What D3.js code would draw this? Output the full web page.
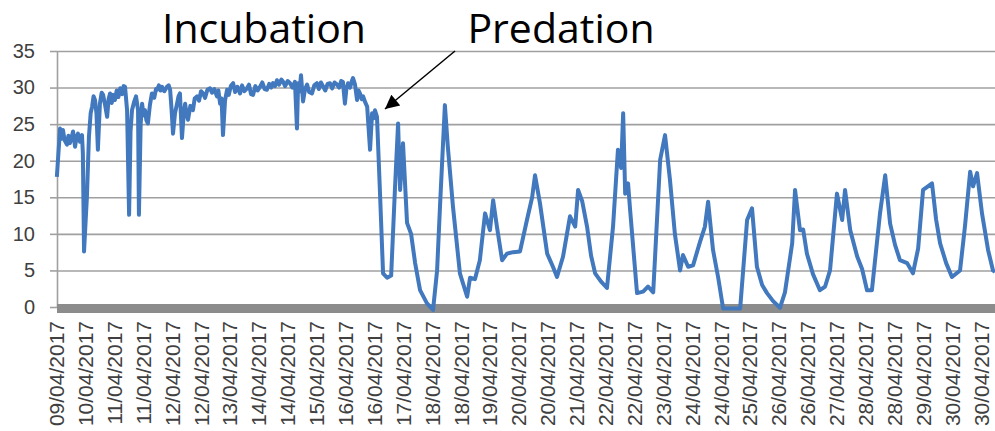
<!DOCTYPE html>
<html>
<head>
<meta charset="utf-8">
<script src="https://cdn.jsdelivr.net/npm/d3@7"></script>
<style>
  body { margin: 0; background: #fff; }
  .tick text { font-family: "Liberation Sans", Arial, sans-serif; fill: #404040; }
  .note { font-family: "Open Sans", sans-serif; font-size: 41px; fill: #000; }
</style>
</head>
<body>
<script>
// x axis category labels (one every ~16 h of readings)
var dateLabels = ["09/04/2017","10/04/2017","11/04/2017","11/04/2017","12/04/2017","12/04/2017",
  "13/04/2017","14/04/2017","14/04/2017","15/04/2017","16/04/2017","16/04/2017","17/04/2017",
  "18/04/2017","18/04/2017","19/04/2017","20/04/2017","20/04/2017","21/04/2017","22/04/2017",
  "22/04/2017","23/04/2017","24/04/2017","24/04/2017","25/04/2017","26/04/2017","26/04/2017",
  "27/04/2017","28/04/2017","28/04/2017","29/04/2017","30/04/2017","30/04/2017"];

var yTicks = [0, 5, 10, 15, 20, 25, 30, 35];

// position along the category axis (in label steps)
var tPos = [0.03,0.14,0.20,0.24,0.30,0.38,0.43,0.48,0.53,0.59,
  0.66,0.71,0.76,0.83,0.90,0.93,0.97,1.07,1.14,1.20,
  1.25,1.30,1.35,1.40,1.45,1.52,1.58,1.63,1.70,1.77,
  1.82,1.87,1.93,1.98,2.04,2.10,2.16,2.22,2.29,2.34,
  2.39,2.46,2.53,2.58,2.63,2.70,2.77,2.84,2.87,2.93,
  2.98,3.03,3.08,3.13,3.18,3.25,3.32,3.40,3.46,3.50,
  3.56,3.62,3.67,3.75,3.84,3.90,3.95,4.00,4.05,4.12,
  4.19,4.24,4.29,4.36,4.42,4.47,4.52,4.57,4.65,4.74,
  4.80,4.88,4.95,5.02,5.09,5.16,5.24,5.33,5.40,5.48,
  5.57,5.62,5.68,5.73,5.78,5.85,5.92,5.98,6.05,6.13,
  6.20,6.28,6.37,6.44,6.52,6.61,6.68,6.75,6.82,6.90,
  6.98,7.06,7.14,7.22,7.30,7.38,7.45,7.51,7.58,7.65,
  7.72,7.80,7.86,7.93,8.02,8.10,8.18,8.27,8.34,8.38,
  8.43,8.48,8.55,8.62,8.69,8.76,8.86,8.94,9.03,9.10,
  9.17,9.24,9.32,9.40,9.48,9.56,9.64,9.73,9.80,9.87,
  9.93,10.00,10.05,10.11,10.18,10.24,10.28,10.35,10.42,10.47,
  10.52,10.58,10.63,10.70,10.77,10.80,10.87,10.94,10.99,11.04,
  11.11,11.21,11.32,11.46,11.60,11.73,11.84,11.91,12.01,12.15,
  12.29,12.43,12.60,12.84,13.05,13.19,13.29,13.46,13.56,13.74,
  13.98,14.23,14.33,14.50,14.67,14.85,15.02,15.13,15.26,15.44,
  15.61,15.82,16.06,16.30,16.48,16.58,16.75,17.00,17.20,17.34,
  17.55,17.79,17.97,18.07,18.21,18.38,18.52,18.66,18.86,19.07,
  19.28,19.45,19.56,19.63,19.70,19.80,19.87,20.11,20.32,20.49,
  20.67,20.91,21.08,21.25,21.42,21.60,21.70,21.88,22.05,22.29,
  22.46,22.57,22.74,22.92,23.09,23.33,23.68,23.92,24.09,24.26,
  24.44,24.61,24.82,25.06,25.23,25.48,25.58,25.75,25.86,25.99,
  26.20,26.44,26.62,26.79,27.03,27.21,27.31,27.49,27.73,27.90,
  28.07,28.24,28.52,28.70,28.87,29.04,29.21,29.46,29.66,29.84,
  30.01,30.18,30.32,30.46,30.60,30.81,31.01,31.29,31.46,31.64,
  31.74,31.88,32.05,32.26,32.43,32.50];

// nest temperature (°C)
var temps = [17.8,24.4,23.0,24.2,22.8,22.2,23.4,22.4,23.0,24.0,
  21.9,23.2,23.7,22.6,23.5,21.0,7.6,15.1,23.3,26.5,
  27.4,28.8,28.3,26.5,21.5,27.8,29.3,29.0,27.6,26.0,
  28.4,29.2,27.9,29.0,28.3,29.6,28.7,29.9,29.1,30.2,
  30.1,26.9,12.6,24.0,26.9,28.0,28.8,26.9,12.6,25.0,
  27.8,26.2,26.9,25.5,25.1,27.6,29.2,28.6,29.8,29.7,
  30.3,29.6,30.1,29.5,30.1,30.3,29.7,27.0,23.7,26.5,
  27.8,28.8,29.2,23.1,26.4,27.8,26.3,25.6,27.5,26.9,
  28.5,28.8,28.2,29.5,29.2,28.6,29.7,29.9,29.3,29.8,
  28.8,29.6,27.8,28.5,23.5,28.2,29.7,29.0,30.2,30.6,
  29.4,30.1,29.2,30.3,29.5,29.9,30.4,29.1,29.0,30.2,
  29.6,30.1,30.7,29.8,29.7,30.5,30.0,30.6,30.2,31.0,
  30.4,31.1,30.8,30.2,30.9,30.6,30.0,30.8,24.4,30.6,
  29.5,31.7,28.1,29.8,30.4,29.4,29.2,30.3,30.6,29.8,
  30.7,30.2,29.6,30.5,30.6,29.9,30.7,30.4,30.0,30.9,
  30.8,27.8,29.8,30.6,30.0,30.9,31.3,30.4,28.3,29.6,
  29.2,28.4,28.8,28.0,27.4,25.6,21.5,26.5,25.8,26.9,
  26.0,16.0,4.6,4.0,4.3,16.0,25.1,16.0,22.4,11.5,
  10.0,6.0,2.3,0.5,-0.4,5.0,13.7,27.6,22.0,13.7,
  4.6,1.4,4.0,3.8,6.4,12.8,10.5,14.6,11.0,6.4,
  7.3,7.5,7.6,11.9,15.0,18.0,14.2,7.3,5.5,4.1,
  6.9,12.4,11.0,16.0,14.5,11.0,7.0,4.6,3.5,2.6,
  11.0,21.5,19.0,26.5,15.5,16.9,13.3,1.9,2.1,2.8,
  2.0,20.1,23.5,17.4,10.0,5.0,7.1,5.5,5.7,8.9,
  11.0,14.4,7.8,4.0,-0.2,-0.2,-0.2,11.9,13.5,5.5,
  3.0,1.9,0.8,-0.1,2.0,8.7,16.0,10.5,10.6,7.3,
  4.5,2.3,2.8,5.0,15.5,11.9,16.0,10.5,6.9,5.2,
  2.3,2.3,12.8,18.0,11.4,8.5,6.4,6.0,4.6,8.0,
  16.0,16.5,16.9,12.0,8.7,6.0,4.1,5.0,11.0,18.5,
  16.5,18.3,12.8,7.8,5.0,4.8];

var w = 995, h = 431;
var plotL = 57, plotR = 995, plotT = 51, plotB = 307;

var x = d3.scaleLinear().domain([0, 32.5]).range([56, 995]);
var y = d3.scaleLinear().domain([0, 35]).range([plotB, plotT]);

var svg = d3.select("body").append("svg")
  .attr("width", w)
  .attr("height", h);

// horizontal gridlines
svg.append("g")
  .attr("transform", "translate(" + plotL + ",0)")
  .call(d3.axisLeft(y).tickValues(yTicks).tickSize(-(plotR - plotL)).tickFormat(""))
  .call(function(g){
    g.select(".domain").remove();
    g.selectAll("line").attr("stroke", "#a0a0a0").attr("stroke-width", 1.6);
  });

// y axis with small outside ticks
svg.append("g")
  .attr("transform", "translate(" + plotL + ",0)")
  .call(d3.axisLeft(y).tickValues(yTicks).tickSize(7).tickPadding(15).tickSizeOuter(0))
  .call(function(g){
    g.select(".domain").attr("stroke", "#a0a0a0").attr("stroke-width", 1.6);
    g.selectAll("line").attr("stroke", "#a0a0a0").attr("stroke-width", 1.6);
    g.selectAll("text").style("font-size", "20px");
  });

// thick grey band along the x axis
svg.append("rect")
  .attr("x", plotL)
  .attr("y", y(0) - 3)
  .attr("width", plotR - plotL)
  .attr("height", 9)
  .attr("fill", "#8c8c8c");

// x axis labels, rotated
var xAxis = d3.axisBottom(x)
  .tickValues(d3.range(dateLabels.length))
  .tickFormat(function(d){ return dateLabels[d]; })
  .tickSize(0);
svg.append("g")
  .attr("transform", "translate(0," + (y(0) + 14) + ")")
  .call(xAxis)
  .call(function(g){
    g.select(".domain").remove();
    g.selectAll("text")
      .style("font-size", "21px")
      .attr("text-anchor", "end")
      .attr("transform", "rotate(-90)")
      .attr("x", 0)
      .attr("y", 0)
      .attr("dy", "0.36em");
  });

// temperature line
var pts = tPos.map(function(t, i){ return [t, temps[i]]; });
var line = d3.line()
  .x(function(d){ return x(d[0]); })
  .y(function(d){ return y(d[1]); });
svg.append("path")
  .datum(pts)
  .attr("d", line)
  .attr("fill", "none")
  .attr("stroke", "#4178be")
  .attr("stroke-width", 4)
  .attr("stroke-linejoin", "round");

// annotations
svg.append("defs").append("marker")
  .attr("id", "arrow")
  .attr("viewBox", "0 0 10 10")
  .attr("refX", 10).attr("refY", 5)
  .attr("markerWidth", 16).attr("markerHeight", 14)
  .attr("markerUnits", "userSpaceOnUse")
  .attr("orient", "auto")
  .append("path")
  .attr("d", "M0,0 L10,5 L0,10 z")
  .attr("fill", "#000");

svg.append("text").attr("class", "note")
  .attr("x", 264).attr("y", 43)
  .attr("text-anchor", "middle")
  .text("Incubation");
svg.append("text").attr("class", "note")
  .attr("x", 561).attr("y", 43)
  .attr("text-anchor", "middle")
  .text("Predation");

svg.append("line")
  .attr("x1", 455).attr("y1", 51)
  .attr("x2", 385).attr("y2", 109)
  .attr("stroke", "#000")
  .attr("stroke-width", 1.5)
  .attr("marker-end", "url(#arrow)");
</script>
</body>
</html>
